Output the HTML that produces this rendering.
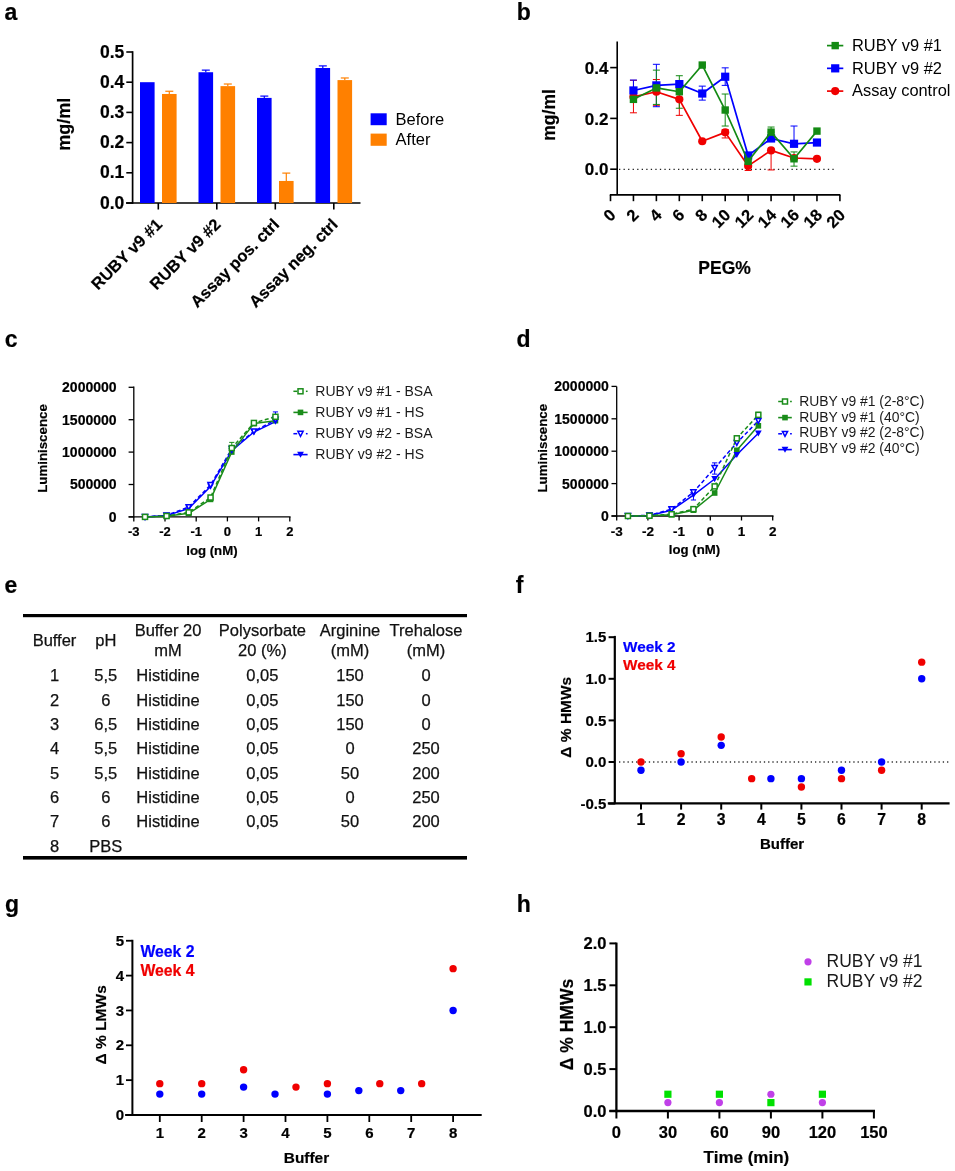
<!DOCTYPE html>
<html><head><meta charset="utf-8"><style>
html,body{margin:0;padding:0;background:#fff;width:955px;height:1171px;overflow:hidden}
svg{display:block;font-family:"Liberation Sans", sans-serif;will-change:transform}
</style></head><body>
<svg width="955" height="1171" viewBox="0 0 955 1171">
<rect width="955" height="1171" fill="#fff"/>
<text x="4.50" y="19.60" font-size="23" font-weight="bold" text-anchor="start" fill="#000" stroke="#000" stroke-width="0.2">a</text>
<text x="516.80" y="19.60" font-size="23" font-weight="bold" text-anchor="start" fill="#000" stroke="#000" stroke-width="0.2">b</text>
<text x="4.80" y="346.60" font-size="23" font-weight="bold" text-anchor="start" fill="#000" stroke="#000" stroke-width="0.2">c</text>
<text x="516.60" y="346.60" font-size="23" font-weight="bold" text-anchor="start" fill="#000" stroke="#000" stroke-width="0.2">d</text>
<text x="4.60" y="593.20" font-size="23" font-weight="bold" text-anchor="start" fill="#000" stroke="#000" stroke-width="0.2">e</text>
<text x="515.80" y="592.80" font-size="23" font-weight="bold" text-anchor="start" fill="#000" stroke="#000" stroke-width="0.2">f</text>
<text x="5.00" y="911.60" font-size="23" font-weight="bold" text-anchor="start" fill="#000" stroke="#000" stroke-width="0.2">g</text>
<text x="516.80" y="911.80" font-size="23" font-weight="bold" text-anchor="start" fill="#000" stroke="#000" stroke-width="0.2">h</text>
<line x1="132.60" y1="51.20" x2="132.60" y2="203.80" stroke="#000" stroke-width="1.7"/>
<line x1="126.30" y1="203.00" x2="132.60" y2="203.00" stroke="#000" stroke-width="1.6"/>
<text x="124.30" y="208.60" font-size="17.5" font-weight="bold" text-anchor="end" fill="#000" stroke="#000" stroke-width="0.2">0.0</text>
<line x1="126.30" y1="172.80" x2="132.60" y2="172.80" stroke="#000" stroke-width="1.6"/>
<text x="124.30" y="178.40" font-size="17.5" font-weight="bold" text-anchor="end" fill="#000" stroke="#000" stroke-width="0.2">0.1</text>
<line x1="126.30" y1="142.60" x2="132.60" y2="142.60" stroke="#000" stroke-width="1.6"/>
<text x="124.30" y="148.20" font-size="17.5" font-weight="bold" text-anchor="end" fill="#000" stroke="#000" stroke-width="0.2">0.2</text>
<line x1="126.30" y1="112.40" x2="132.60" y2="112.40" stroke="#000" stroke-width="1.6"/>
<text x="124.30" y="118.00" font-size="17.5" font-weight="bold" text-anchor="end" fill="#000" stroke="#000" stroke-width="0.2">0.3</text>
<line x1="126.30" y1="82.20" x2="132.60" y2="82.20" stroke="#000" stroke-width="1.6"/>
<text x="124.30" y="87.80" font-size="17.5" font-weight="bold" text-anchor="end" fill="#000" stroke="#000" stroke-width="0.2">0.4</text>
<line x1="126.30" y1="52.00" x2="132.60" y2="52.00" stroke="#000" stroke-width="1.6"/>
<text x="124.30" y="57.60" font-size="17.5" font-weight="bold" text-anchor="end" fill="#000" stroke="#000" stroke-width="0.2">0.5</text>
<line x1="126.00" y1="203.00" x2="360.50" y2="203.00" stroke="#000" stroke-width="1.6"/>
<line x1="158.30" y1="203.00" x2="158.30" y2="209.50" stroke="#000" stroke-width="1.6"/>
<rect x="140.00" y="82.20" width="14.60" height="120.80" fill="#0000ff"/>
<line x1="169.30" y1="91.26" x2="169.30" y2="93.98" stroke="#ff8000" stroke-width="1.2"/>
<line x1="165.30" y1="91.26" x2="173.30" y2="91.26" stroke="#ff8000" stroke-width="1.2"/>
<rect x="162.00" y="93.98" width="14.60" height="109.02" fill="#ff8000"/>
<line x1="216.80" y1="203.00" x2="216.80" y2="209.50" stroke="#000" stroke-width="1.6"/>
<line x1="205.80" y1="70.12" x2="205.80" y2="72.23" stroke="#0000ff" stroke-width="1.2"/>
<line x1="201.80" y1="70.12" x2="209.80" y2="70.12" stroke="#0000ff" stroke-width="1.2"/>
<rect x="198.50" y="72.23" width="14.60" height="130.77" fill="#0000ff"/>
<line x1="227.80" y1="84.01" x2="227.80" y2="86.13" stroke="#ff8000" stroke-width="1.2"/>
<line x1="223.80" y1="84.01" x2="231.80" y2="84.01" stroke="#ff8000" stroke-width="1.2"/>
<rect x="220.50" y="86.13" width="14.60" height="116.87" fill="#ff8000"/>
<line x1="275.30" y1="203.00" x2="275.30" y2="209.50" stroke="#000" stroke-width="1.6"/>
<line x1="264.30" y1="96.09" x2="264.30" y2="97.90" stroke="#0000ff" stroke-width="1.2"/>
<line x1="260.30" y1="96.09" x2="268.30" y2="96.09" stroke="#0000ff" stroke-width="1.2"/>
<rect x="257.00" y="97.90" width="14.60" height="105.10" fill="#0000ff"/>
<line x1="286.30" y1="173.10" x2="286.30" y2="180.95" stroke="#ff8000" stroke-width="1.2"/>
<line x1="282.30" y1="173.10" x2="290.30" y2="173.10" stroke="#ff8000" stroke-width="1.2"/>
<rect x="279.00" y="180.95" width="14.60" height="22.05" fill="#ff8000"/>
<line x1="333.80" y1="203.00" x2="333.80" y2="209.50" stroke="#000" stroke-width="1.6"/>
<line x1="322.80" y1="65.89" x2="322.80" y2="68.01" stroke="#0000ff" stroke-width="1.2"/>
<line x1="318.80" y1="65.89" x2="326.80" y2="65.89" stroke="#0000ff" stroke-width="1.2"/>
<rect x="315.50" y="68.01" width="14.60" height="134.99" fill="#0000ff"/>
<line x1="344.80" y1="77.97" x2="344.80" y2="80.09" stroke="#ff8000" stroke-width="1.2"/>
<line x1="340.80" y1="77.97" x2="348.80" y2="77.97" stroke="#ff8000" stroke-width="1.2"/>
<rect x="337.50" y="80.09" width="14.60" height="122.91" fill="#ff8000"/>
<text x="70.20" y="124.20" font-size="18" font-weight="bold" text-anchor="middle" fill="#000" stroke="#000" stroke-width="0.2" transform="rotate(-90 70.20 124.20)">mg/ml</text>
<rect x="370.60" y="113.30" width="16.10" height="11.90" fill="#0000ff"/>
<rect x="370.60" y="133.60" width="16.10" height="12.20" fill="#ff8000"/>
<text x="395.60" y="124.90" font-size="16.5" font-weight="normal" text-anchor="start" fill="#000">Before</text>
<text x="395.60" y="145.00" font-size="16.5" font-weight="normal" text-anchor="start" fill="#000">After</text>
<text x="163.30" y="225.50" font-size="16.5" font-weight="bold" text-anchor="end" fill="#000" stroke="#000" stroke-width="0.2" transform="rotate(-45 163.30 225.50)">RUBY v9 #1</text>
<text x="221.80" y="225.50" font-size="16.5" font-weight="bold" text-anchor="end" fill="#000" stroke="#000" stroke-width="0.2" transform="rotate(-45 221.80 225.50)">RUBY v9 #2</text>
<text x="280.30" y="225.50" font-size="16.5" font-weight="bold" text-anchor="end" fill="#000" stroke="#000" stroke-width="0.2" transform="rotate(-45 280.30 225.50)">Assay pos. ctrl</text>
<text x="338.80" y="225.50" font-size="16.5" font-weight="bold" text-anchor="end" fill="#000" stroke="#000" stroke-width="0.2" transform="rotate(-45 338.80 225.50)">Assay neg. ctrl</text>
<line x1="617.20" y1="41.60" x2="617.20" y2="194.90" stroke="#000" stroke-width="1.6"/>
<line x1="610.20" y1="169.20" x2="617.20" y2="169.20" stroke="#000" stroke-width="1.6"/>
<text x="608.40" y="175.40" font-size="17" font-weight="bold" text-anchor="end" fill="#000" stroke="#000" stroke-width="0.2">0.0</text>
<line x1="610.20" y1="118.40" x2="617.20" y2="118.40" stroke="#000" stroke-width="1.6"/>
<text x="608.40" y="124.60" font-size="17" font-weight="bold" text-anchor="end" fill="#000" stroke="#000" stroke-width="0.2">0.2</text>
<line x1="610.20" y1="67.60" x2="617.20" y2="67.60" stroke="#000" stroke-width="1.6"/>
<text x="608.40" y="73.80" font-size="17" font-weight="bold" text-anchor="end" fill="#000" stroke="#000" stroke-width="0.2">0.4</text>
<line x1="609.80" y1="194.90" x2="840.40" y2="194.90" stroke="#000" stroke-width="1.6"/>
<line x1="610.50" y1="194.90" x2="610.50" y2="201.20" stroke="#000" stroke-width="1.6"/>
<text x="616.80" y="216.00" font-size="16.5" font-weight="bold" text-anchor="end" fill="#000" stroke="#000" stroke-width="0.2" transform="rotate(-45 616.80 216.00)">0</text>
<line x1="633.44" y1="194.90" x2="633.44" y2="201.20" stroke="#000" stroke-width="1.6"/>
<text x="639.74" y="216.00" font-size="16.5" font-weight="bold" text-anchor="end" fill="#000" stroke="#000" stroke-width="0.2" transform="rotate(-45 639.74 216.00)">2</text>
<line x1="656.38" y1="194.90" x2="656.38" y2="201.20" stroke="#000" stroke-width="1.6"/>
<text x="662.68" y="216.00" font-size="16.5" font-weight="bold" text-anchor="end" fill="#000" stroke="#000" stroke-width="0.2" transform="rotate(-45 662.68 216.00)">4</text>
<line x1="679.32" y1="194.90" x2="679.32" y2="201.20" stroke="#000" stroke-width="1.6"/>
<text x="685.62" y="216.00" font-size="16.5" font-weight="bold" text-anchor="end" fill="#000" stroke="#000" stroke-width="0.2" transform="rotate(-45 685.62 216.00)">6</text>
<line x1="702.26" y1="194.90" x2="702.26" y2="201.20" stroke="#000" stroke-width="1.6"/>
<text x="708.56" y="216.00" font-size="16.5" font-weight="bold" text-anchor="end" fill="#000" stroke="#000" stroke-width="0.2" transform="rotate(-45 708.56 216.00)">8</text>
<line x1="725.20" y1="194.90" x2="725.20" y2="201.20" stroke="#000" stroke-width="1.6"/>
<text x="731.50" y="216.00" font-size="16.5" font-weight="bold" text-anchor="end" fill="#000" stroke="#000" stroke-width="0.2" transform="rotate(-45 731.50 216.00)">10</text>
<line x1="748.14" y1="194.90" x2="748.14" y2="201.20" stroke="#000" stroke-width="1.6"/>
<text x="754.44" y="216.00" font-size="16.5" font-weight="bold" text-anchor="end" fill="#000" stroke="#000" stroke-width="0.2" transform="rotate(-45 754.44 216.00)">12</text>
<line x1="771.08" y1="194.90" x2="771.08" y2="201.20" stroke="#000" stroke-width="1.6"/>
<text x="777.38" y="216.00" font-size="16.5" font-weight="bold" text-anchor="end" fill="#000" stroke="#000" stroke-width="0.2" transform="rotate(-45 777.38 216.00)">14</text>
<line x1="794.02" y1="194.90" x2="794.02" y2="201.20" stroke="#000" stroke-width="1.6"/>
<text x="800.32" y="216.00" font-size="16.5" font-weight="bold" text-anchor="end" fill="#000" stroke="#000" stroke-width="0.2" transform="rotate(-45 800.32 216.00)">16</text>
<line x1="816.96" y1="194.90" x2="816.96" y2="201.20" stroke="#000" stroke-width="1.6"/>
<text x="823.26" y="216.00" font-size="16.5" font-weight="bold" text-anchor="end" fill="#000" stroke="#000" stroke-width="0.2" transform="rotate(-45 823.26 216.00)">18</text>
<line x1="839.90" y1="194.90" x2="839.90" y2="201.20" stroke="#000" stroke-width="1.6"/>
<text x="846.20" y="216.00" font-size="16.5" font-weight="bold" text-anchor="end" fill="#000" stroke="#000" stroke-width="0.2" transform="rotate(-45 846.20 216.00)">20</text>
<line x1="619" y1="169.4" x2="836" y2="169.4" stroke="#222" stroke-width="1.4" stroke-dasharray="1.3 3.24"/>
<line x1="633.44" y1="80.30" x2="633.44" y2="112.81" stroke="#f00000" stroke-width="1.0"/>
<line x1="629.94" y1="80.30" x2="636.94" y2="80.30" stroke="#f00000" stroke-width="1.0"/>
<line x1="629.94" y1="112.81" x2="636.94" y2="112.81" stroke="#f00000" stroke-width="1.0"/>
<line x1="656.38" y1="79.54" x2="656.38" y2="105.70" stroke="#f00000" stroke-width="1.0"/>
<line x1="652.88" y1="79.54" x2="659.88" y2="79.54" stroke="#f00000" stroke-width="1.0"/>
<line x1="652.88" y1="105.70" x2="659.88" y2="105.70" stroke="#f00000" stroke-width="1.0"/>
<line x1="679.32" y1="99.35" x2="679.32" y2="115.35" stroke="#f00000" stroke-width="1.0"/>
<line x1="675.82" y1="99.35" x2="682.82" y2="99.35" stroke="#f00000" stroke-width="1.0"/>
<line x1="675.82" y1="115.35" x2="682.82" y2="115.35" stroke="#f00000" stroke-width="1.0"/>
<line x1="725.20" y1="129.58" x2="725.20" y2="137.96" stroke="#f00000" stroke-width="1.0"/>
<line x1="721.70" y1="129.58" x2="728.70" y2="129.58" stroke="#f00000" stroke-width="1.0"/>
<line x1="721.70" y1="137.96" x2="728.70" y2="137.96" stroke="#f00000" stroke-width="1.0"/>
<line x1="748.14" y1="165.90" x2="748.14" y2="170.47" stroke="#f00000" stroke-width="1.0"/>
<line x1="744.64" y1="165.90" x2="751.64" y2="165.90" stroke="#f00000" stroke-width="1.0"/>
<line x1="744.64" y1="170.47" x2="751.64" y2="170.47" stroke="#f00000" stroke-width="1.0"/>
<line x1="771.08" y1="150.40" x2="771.08" y2="169.96" stroke="#f00000" stroke-width="1.0"/>
<line x1="767.58" y1="150.40" x2="774.58" y2="150.40" stroke="#f00000" stroke-width="1.0"/>
<line x1="767.58" y1="169.96" x2="774.58" y2="169.96" stroke="#f00000" stroke-width="1.0"/>
<line x1="633.44" y1="80.05" x2="633.44" y2="98.08" stroke="#0000ff" stroke-width="1.0"/>
<line x1="629.94" y1="80.05" x2="636.94" y2="80.05" stroke="#0000ff" stroke-width="1.0"/>
<line x1="629.94" y1="98.08" x2="636.94" y2="98.08" stroke="#0000ff" stroke-width="1.0"/>
<line x1="656.38" y1="64.30" x2="656.38" y2="106.72" stroke="#0000ff" stroke-width="1.0"/>
<line x1="652.88" y1="64.30" x2="659.88" y2="64.30" stroke="#0000ff" stroke-width="1.0"/>
<line x1="652.88" y1="106.72" x2="659.88" y2="106.72" stroke="#0000ff" stroke-width="1.0"/>
<line x1="702.26" y1="86.14" x2="702.26" y2="100.11" stroke="#0000ff" stroke-width="1.0"/>
<line x1="698.76" y1="86.14" x2="705.76" y2="86.14" stroke="#0000ff" stroke-width="1.0"/>
<line x1="698.76" y1="100.11" x2="705.76" y2="100.11" stroke="#0000ff" stroke-width="1.0"/>
<line x1="725.20" y1="67.85" x2="725.20" y2="85.38" stroke="#0000ff" stroke-width="1.0"/>
<line x1="721.70" y1="67.85" x2="728.70" y2="67.85" stroke="#0000ff" stroke-width="1.0"/>
<line x1="721.70" y1="85.38" x2="728.70" y2="85.38" stroke="#0000ff" stroke-width="1.0"/>
<line x1="794.02" y1="126.02" x2="794.02" y2="143.80" stroke="#0000ff" stroke-width="1.0"/>
<line x1="790.52" y1="126.02" x2="797.52" y2="126.02" stroke="#0000ff" stroke-width="1.0"/>
<line x1="790.52" y1="143.80" x2="797.52" y2="143.80" stroke="#0000ff" stroke-width="1.0"/>
<line x1="656.38" y1="70.14" x2="656.38" y2="104.43" stroke="#138a13" stroke-width="1.0"/>
<line x1="652.88" y1="70.14" x2="659.88" y2="70.14" stroke="#138a13" stroke-width="1.0"/>
<line x1="652.88" y1="104.43" x2="659.88" y2="104.43" stroke="#138a13" stroke-width="1.0"/>
<line x1="679.32" y1="75.73" x2="679.32" y2="108.24" stroke="#138a13" stroke-width="1.0"/>
<line x1="675.82" y1="75.73" x2="682.82" y2="75.73" stroke="#138a13" stroke-width="1.0"/>
<line x1="675.82" y1="108.24" x2="682.82" y2="108.24" stroke="#138a13" stroke-width="1.0"/>
<line x1="725.20" y1="94.02" x2="725.20" y2="126.02" stroke="#138a13" stroke-width="1.0"/>
<line x1="721.70" y1="94.02" x2="728.70" y2="94.02" stroke="#138a13" stroke-width="1.0"/>
<line x1="721.70" y1="126.02" x2="728.70" y2="126.02" stroke="#138a13" stroke-width="1.0"/>
<line x1="771.08" y1="127.04" x2="771.08" y2="132.12" stroke="#138a13" stroke-width="1.0"/>
<line x1="767.58" y1="127.04" x2="774.58" y2="127.04" stroke="#138a13" stroke-width="1.0"/>
<line x1="767.58" y1="132.12" x2="774.58" y2="132.12" stroke="#138a13" stroke-width="1.0"/>
<line x1="794.02" y1="151.93" x2="794.02" y2="166.15" stroke="#138a13" stroke-width="1.0"/>
<line x1="790.52" y1="151.93" x2="797.52" y2="151.93" stroke="#138a13" stroke-width="1.0"/>
<line x1="790.52" y1="166.15" x2="797.52" y2="166.15" stroke="#138a13" stroke-width="1.0"/>
<polyline points="633.44,96.81 656.38,91.73 679.32,99.35 702.26,141.26 725.20,132.37 748.14,165.90 771.08,150.40 794.02,158.02 816.96,158.79" fill="none" stroke="#f00000" stroke-width="1.7" stroke-linejoin="round"/>
<circle cx="633.44" cy="96.81" r="4.10" fill="#f00000"/>
<circle cx="656.38" cy="91.73" r="4.10" fill="#f00000"/>
<circle cx="679.32" cy="99.35" r="4.10" fill="#f00000"/>
<circle cx="702.26" cy="141.26" r="4.10" fill="#f00000"/>
<circle cx="725.20" cy="132.37" r="4.10" fill="#f00000"/>
<circle cx="748.14" cy="165.90" r="4.10" fill="#f00000"/>
<circle cx="771.08" cy="150.40" r="4.10" fill="#f00000"/>
<circle cx="794.02" cy="158.02" r="4.10" fill="#f00000"/>
<circle cx="816.96" cy="158.79" r="4.10" fill="#f00000"/>
<polyline points="633.44,90.46 656.38,85.38 679.32,84.11 702.26,93.51 725.20,76.74 748.14,155.48 771.08,138.47 794.02,143.80 816.96,142.53" fill="none" stroke="#0000ff" stroke-width="1.7" stroke-linejoin="round"/>
<rect x="629.34" y="86.36" width="8.20" height="8.20" fill="#0000ff"/>
<rect x="652.28" y="81.28" width="8.20" height="8.20" fill="#0000ff"/>
<rect x="675.22" y="80.01" width="8.20" height="8.20" fill="#0000ff"/>
<rect x="698.16" y="89.41" width="8.20" height="8.20" fill="#0000ff"/>
<rect x="721.10" y="72.64" width="8.20" height="8.20" fill="#0000ff"/>
<rect x="744.04" y="151.38" width="8.20" height="8.20" fill="#0000ff"/>
<rect x="766.98" y="134.37" width="8.20" height="8.20" fill="#0000ff"/>
<rect x="789.92" y="139.70" width="8.20" height="8.20" fill="#0000ff"/>
<rect x="812.86" y="138.43" width="8.20" height="8.20" fill="#0000ff"/>
<polyline points="633.44,99.35 656.38,87.92 679.32,91.73 702.26,65.06 725.20,110.02 748.14,161.33 771.08,132.12 794.02,158.79 816.96,131.10" fill="none" stroke="#138a13" stroke-width="1.7" stroke-linejoin="round"/>
<rect x="629.74" y="95.65" width="7.40" height="7.40" fill="#138a13"/>
<rect x="652.68" y="84.22" width="7.40" height="7.40" fill="#138a13"/>
<rect x="675.62" y="88.03" width="7.40" height="7.40" fill="#138a13"/>
<rect x="698.56" y="61.36" width="7.40" height="7.40" fill="#138a13"/>
<rect x="721.50" y="106.32" width="7.40" height="7.40" fill="#138a13"/>
<rect x="744.44" y="157.63" width="7.40" height="7.40" fill="#138a13"/>
<rect x="767.38" y="128.42" width="7.40" height="7.40" fill="#138a13"/>
<rect x="790.32" y="155.09" width="7.40" height="7.40" fill="#138a13"/>
<rect x="813.26" y="127.40" width="7.40" height="7.40" fill="#138a13"/>
<line x1="827.00" y1="45.60" x2="843.30" y2="45.60" stroke="#138a13" stroke-width="1.7"/>
<rect x="831.50" y="41.90" width="7.40" height="7.40" fill="#138a13"/>
<text x="852.00" y="51.30" font-size="16.4" font-weight="normal" text-anchor="start" fill="#000">RUBY v9 #1</text>
<line x1="827.00" y1="68.35" x2="843.30" y2="68.35" stroke="#0000ff" stroke-width="1.7"/>
<rect x="831.10" y="64.25" width="8.20" height="8.20" fill="#0000ff"/>
<text x="852.00" y="73.70" font-size="16.4" font-weight="normal" text-anchor="start" fill="#000">RUBY v9 #2</text>
<line x1="827.00" y1="91.10" x2="843.30" y2="91.10" stroke="#f00000" stroke-width="1.7"/>
<circle cx="835.20" cy="91.10" r="4.10" fill="#f00000"/>
<text x="852.00" y="96.10" font-size="16.4" font-weight="normal" text-anchor="start" fill="#000">Assay control</text>
<text x="724.60" y="274.00" font-size="17.5" font-weight="bold" text-anchor="middle" fill="#000" stroke="#000" stroke-width="0.2">PEG%</text>
<text x="554.60" y="114.90" font-size="17.5" font-weight="bold" text-anchor="middle" fill="#000" stroke="#000" stroke-width="0.2" transform="rotate(-90 554.60 114.90)">mg/ml</text>
<line x1="133.80" y1="386.60" x2="133.80" y2="517.40" stroke="#000" stroke-width="1.3"/>
<line x1="128.60" y1="516.90" x2="133.80" y2="516.90" stroke="#000" stroke-width="1.3"/>
<text x="116.60" y="521.80" font-size="14" font-weight="bold" text-anchor="end" fill="#000" stroke="#000" stroke-width="0.2">0</text>
<line x1="128.60" y1="484.50" x2="133.80" y2="484.50" stroke="#000" stroke-width="1.3"/>
<text x="116.60" y="489.40" font-size="14" font-weight="bold" text-anchor="end" fill="#000" stroke="#000" stroke-width="0.2">500000</text>
<line x1="128.60" y1="452.10" x2="133.80" y2="452.10" stroke="#000" stroke-width="1.3"/>
<text x="116.60" y="457.00" font-size="14" font-weight="bold" text-anchor="end" fill="#000" stroke="#000" stroke-width="0.2">1000000</text>
<line x1="128.60" y1="419.70" x2="133.80" y2="419.70" stroke="#000" stroke-width="1.3"/>
<text x="116.60" y="424.60" font-size="14" font-weight="bold" text-anchor="end" fill="#000" stroke="#000" stroke-width="0.2">1500000</text>
<line x1="128.60" y1="387.30" x2="133.80" y2="387.30" stroke="#000" stroke-width="1.3"/>
<text x="116.60" y="392.20" font-size="14" font-weight="bold" text-anchor="end" fill="#000" stroke="#000" stroke-width="0.2">2000000</text>
<line x1="128.60" y1="516.90" x2="290.60" y2="516.90" stroke="#000" stroke-width="1.3"/>
<line x1="133.80" y1="516.90" x2="133.80" y2="521.40" stroke="#000" stroke-width="1.3"/>
<text x="133.80" y="536.20" font-size="13" font-weight="bold" text-anchor="middle" fill="#000" stroke="#000" stroke-width="0.2">-3</text>
<line x1="165.00" y1="516.90" x2="165.00" y2="521.40" stroke="#000" stroke-width="1.3"/>
<text x="165.00" y="536.20" font-size="13" font-weight="bold" text-anchor="middle" fill="#000" stroke="#000" stroke-width="0.2">-2</text>
<line x1="196.20" y1="516.90" x2="196.20" y2="521.40" stroke="#000" stroke-width="1.3"/>
<text x="196.20" y="536.20" font-size="13" font-weight="bold" text-anchor="middle" fill="#000" stroke="#000" stroke-width="0.2">-1</text>
<line x1="227.40" y1="516.90" x2="227.40" y2="521.40" stroke="#000" stroke-width="1.3"/>
<text x="227.40" y="536.20" font-size="13" font-weight="bold" text-anchor="middle" fill="#000" stroke="#000" stroke-width="0.2">0</text>
<line x1="258.60" y1="516.90" x2="258.60" y2="521.40" stroke="#000" stroke-width="1.3"/>
<text x="258.60" y="536.20" font-size="13" font-weight="bold" text-anchor="middle" fill="#000" stroke="#000" stroke-width="0.2">1</text>
<line x1="289.80" y1="516.90" x2="289.80" y2="521.40" stroke="#000" stroke-width="1.3"/>
<text x="289.80" y="536.20" font-size="13" font-weight="bold" text-anchor="middle" fill="#000" stroke="#000" stroke-width="0.2">2</text>
<text x="211.90" y="555.20" font-size="13.2" font-weight="bold" text-anchor="middle" fill="#000" stroke="#000" stroke-width="0.2">log (nM)</text>
<text x="47.20" y="448.50" font-size="13.3" font-weight="bold" text-anchor="middle" fill="#000" stroke="#000" stroke-width="0.2" transform="rotate(-90 47.20 448.50)">Luminiscence</text>
<polyline points="145.03,516.90 166.56,515.28 188.71,507.05 210.55,485.02 231.77,448.86 253.92,431.36 275.45,419.70" fill="none" stroke="#0000ff" stroke-width="1.5" stroke-linejoin="round" stroke-dasharray="4 2.5"/>
<polyline points="145.03,516.90 166.56,515.60 188.71,508.48 210.55,486.44 231.77,450.80 253.92,432.01 275.45,421.64" fill="none" stroke="#0000ff" stroke-width="1.5" stroke-linejoin="round"/>
<polyline points="145.03,516.90 166.56,515.99 188.71,512.36 210.55,497.52 231.77,448.02 253.92,422.94 275.45,416.78" fill="none" stroke="#1a8c1a" stroke-width="1.5" stroke-linejoin="round" stroke-dasharray="4 2.5"/>
<polyline points="145.03,516.90 166.56,516.25 188.71,513.34 210.55,499.40 231.77,452.04 253.92,423.59 275.45,420.67" fill="none" stroke="#1a8c1a" stroke-width="1.5" stroke-linejoin="round"/>
<line x1="231.77" y1="442.38" x2="231.77" y2="448.02" stroke="#1a8c1a" stroke-width="1.0"/>
<line x1="229.17" y1="442.38" x2="234.37" y2="442.38" stroke="#1a8c1a" stroke-width="1.0"/>
<line x1="229.17" y1="448.02" x2="234.37" y2="448.02" stroke="#1a8c1a" stroke-width="1.0"/>
<line x1="275.45" y1="411.92" x2="275.45" y2="419.70" stroke="#0000ff" stroke-width="1.0"/>
<line x1="272.85" y1="411.92" x2="278.05" y2="411.92" stroke="#0000ff" stroke-width="1.0"/>
<line x1="272.85" y1="419.70" x2="278.05" y2="419.70" stroke="#0000ff" stroke-width="1.0"/>
<rect x="142.23" y="514.10" width="5.60" height="5.60" fill="#1a8c1a"/>
<rect x="163.76" y="513.45" width="5.60" height="5.60" fill="#1a8c1a"/>
<rect x="185.91" y="510.54" width="5.60" height="5.60" fill="#1a8c1a"/>
<rect x="207.75" y="496.60" width="5.60" height="5.60" fill="#1a8c1a"/>
<rect x="228.97" y="449.24" width="5.60" height="5.60" fill="#1a8c1a"/>
<rect x="251.12" y="420.79" width="5.60" height="5.60" fill="#1a8c1a"/>
<rect x="272.65" y="417.87" width="5.60" height="5.60" fill="#1a8c1a"/>
<polygon points="141.63,514.00 148.43,514.00 145.03,520.10" fill="#0000ff"/>
<polygon points="163.16,512.70 169.96,512.70 166.56,518.80" fill="#0000ff"/>
<polygon points="185.31,505.58 192.11,505.58 188.71,511.68" fill="#0000ff"/>
<polygon points="207.15,483.54 213.95,483.54 210.55,489.64" fill="#0000ff"/>
<polygon points="228.37,447.90 235.17,447.90 231.77,454.00" fill="#0000ff"/>
<polygon points="250.52,429.11 257.32,429.11 253.92,435.21" fill="#0000ff"/>
<polygon points="272.05,418.74 278.85,418.74 275.45,424.84" fill="#0000ff"/>
<polygon points="142.43,514.50 147.63,514.50 145.03,519.50" fill="#fff" stroke="#0000ff" stroke-width="1.5" stroke-linejoin="miter"/>
<polygon points="163.96,512.88 169.16,512.88 166.56,517.88" fill="#fff" stroke="#0000ff" stroke-width="1.5" stroke-linejoin="miter"/>
<polygon points="186.11,504.65 191.31,504.65 188.71,509.65" fill="#fff" stroke="#0000ff" stroke-width="1.5" stroke-linejoin="miter"/>
<polygon points="207.95,482.62 213.15,482.62 210.55,487.62" fill="#fff" stroke="#0000ff" stroke-width="1.5" stroke-linejoin="miter"/>
<polygon points="229.17,446.46 234.37,446.46 231.77,451.46" fill="#fff" stroke="#0000ff" stroke-width="1.5" stroke-linejoin="miter"/>
<polygon points="251.32,428.96 256.52,428.96 253.92,433.96" fill="#fff" stroke="#0000ff" stroke-width="1.5" stroke-linejoin="miter"/>
<polygon points="272.85,417.30 278.05,417.30 275.45,422.30" fill="#fff" stroke="#0000ff" stroke-width="1.5" stroke-linejoin="miter"/>
<rect x="142.53" y="514.40" width="5" height="5" fill="#fff" stroke="#1a8c1a" stroke-width="1.5"/>
<rect x="164.06" y="513.49" width="5" height="5" fill="#fff" stroke="#1a8c1a" stroke-width="1.5"/>
<rect x="186.21" y="509.86" width="5" height="5" fill="#fff" stroke="#1a8c1a" stroke-width="1.5"/>
<rect x="208.05" y="495.02" width="5" height="5" fill="#fff" stroke="#1a8c1a" stroke-width="1.5"/>
<rect x="229.27" y="445.52" width="5" height="5" fill="#fff" stroke="#1a8c1a" stroke-width="1.5"/>
<rect x="251.42" y="420.44" width="5" height="5" fill="#fff" stroke="#1a8c1a" stroke-width="1.5"/>
<rect x="272.95" y="414.28" width="5" height="5" fill="#fff" stroke="#1a8c1a" stroke-width="1.5"/>
<line x1="293.40" y1="391.30" x2="297.20" y2="391.30" stroke="#1a8c1a" stroke-width="1.5"/>
<line x1="305.90" y1="391.30" x2="307.60" y2="391.30" stroke="#1a8c1a" stroke-width="1.5"/>
<rect x="298.00" y="388.80" width="5" height="5" fill="#fff" stroke="#1a8c1a" stroke-width="1.5"/>
<text x="315.30" y="396.10" font-size="14" font-weight="normal" text-anchor="start" fill="#1a1a1a">RUBY v9 #1 - BSA</text>
<line x1="293.40" y1="412.40" x2="307.60" y2="412.40" stroke="#1a8c1a" stroke-width="1.6"/>
<rect x="297.70" y="409.60" width="5.60" height="5.60" fill="#1a8c1a"/>
<text x="315.30" y="417.20" font-size="14" font-weight="normal" text-anchor="start" fill="#1a1a1a">RUBY v9 #1 - HS</text>
<line x1="293.40" y1="433.70" x2="297.20" y2="433.70" stroke="#0000ff" stroke-width="1.5"/>
<line x1="305.90" y1="433.70" x2="307.60" y2="433.70" stroke="#0000ff" stroke-width="1.5"/>
<polygon points="297.90,431.30 303.10,431.30 300.50,436.30" fill="#fff" stroke="#0000ff" stroke-width="1.5" stroke-linejoin="miter"/>
<text x="315.30" y="438.40" font-size="14" font-weight="normal" text-anchor="start" fill="#1a1a1a">RUBY v9 #2 - BSA</text>
<line x1="293.40" y1="454.60" x2="307.60" y2="454.60" stroke="#0000ff" stroke-width="1.6"/>
<polygon points="297.10,451.70 303.90,451.70 300.50,457.80" fill="#0000ff"/>
<text x="315.30" y="459.40" font-size="14" font-weight="normal" text-anchor="start" fill="#1a1a1a">RUBY v9 #2 - HS</text>
<line x1="616.70" y1="386.60" x2="616.70" y2="516.50" stroke="#000" stroke-width="1.3"/>
<line x1="611.50" y1="516.00" x2="616.70" y2="516.00" stroke="#000" stroke-width="1.3"/>
<text x="608.80" y="520.90" font-size="14" font-weight="bold" text-anchor="end" fill="#000" stroke="#000" stroke-width="0.2">0</text>
<line x1="611.50" y1="483.60" x2="616.70" y2="483.60" stroke="#000" stroke-width="1.3"/>
<text x="608.80" y="488.50" font-size="14" font-weight="bold" text-anchor="end" fill="#000" stroke="#000" stroke-width="0.2">500000</text>
<line x1="611.50" y1="451.20" x2="616.70" y2="451.20" stroke="#000" stroke-width="1.3"/>
<text x="608.80" y="456.10" font-size="14" font-weight="bold" text-anchor="end" fill="#000" stroke="#000" stroke-width="0.2">1000000</text>
<line x1="611.50" y1="418.80" x2="616.70" y2="418.80" stroke="#000" stroke-width="1.3"/>
<text x="608.80" y="423.70" font-size="14" font-weight="bold" text-anchor="end" fill="#000" stroke="#000" stroke-width="0.2">1500000</text>
<line x1="611.50" y1="386.40" x2="616.70" y2="386.40" stroke="#000" stroke-width="1.3"/>
<text x="608.80" y="391.30" font-size="14" font-weight="bold" text-anchor="end" fill="#000" stroke="#000" stroke-width="0.2">2000000</text>
<line x1="611.50" y1="516.00" x2="773.50" y2="516.00" stroke="#000" stroke-width="1.3"/>
<line x1="616.70" y1="516.00" x2="616.70" y2="520.50" stroke="#000" stroke-width="1.3"/>
<text x="616.70" y="535.60" font-size="13.5" font-weight="bold" text-anchor="middle" fill="#000" stroke="#000" stroke-width="0.2">-3</text>
<line x1="647.90" y1="516.00" x2="647.90" y2="520.50" stroke="#000" stroke-width="1.3"/>
<text x="647.90" y="535.60" font-size="13.5" font-weight="bold" text-anchor="middle" fill="#000" stroke="#000" stroke-width="0.2">-2</text>
<line x1="679.10" y1="516.00" x2="679.10" y2="520.50" stroke="#000" stroke-width="1.3"/>
<text x="679.10" y="535.60" font-size="13.5" font-weight="bold" text-anchor="middle" fill="#000" stroke="#000" stroke-width="0.2">-1</text>
<line x1="710.30" y1="516.00" x2="710.30" y2="520.50" stroke="#000" stroke-width="1.3"/>
<text x="710.30" y="535.60" font-size="13.5" font-weight="bold" text-anchor="middle" fill="#000" stroke="#000" stroke-width="0.2">0</text>
<line x1="741.50" y1="516.00" x2="741.50" y2="520.50" stroke="#000" stroke-width="1.3"/>
<text x="741.50" y="535.60" font-size="13.5" font-weight="bold" text-anchor="middle" fill="#000" stroke="#000" stroke-width="0.2">1</text>
<line x1="772.70" y1="516.00" x2="772.70" y2="520.50" stroke="#000" stroke-width="1.3"/>
<text x="772.70" y="535.60" font-size="13.5" font-weight="bold" text-anchor="middle" fill="#000" stroke="#000" stroke-width="0.2">2</text>
<text x="694.50" y="553.80" font-size="13.2" font-weight="bold" text-anchor="middle" fill="#000" stroke="#000" stroke-width="0.2">log (nM)</text>
<text x="546.90" y="448.20" font-size="13.3" font-weight="bold" text-anchor="middle" fill="#000" stroke="#000" stroke-width="0.2" transform="rotate(-90 546.90 448.20)">Luminiscence</text>
<polyline points="627.93,516.00 649.46,515.35 671.61,509.13 693.45,492.22 714.67,467.98 736.82,442.78 758.35,420.81" fill="none" stroke="#0000ff" stroke-width="1.5" stroke-linejoin="round" stroke-dasharray="4 2.5"/>
<polyline points="627.93,516.00 649.46,515.48 671.61,510.17 693.45,495.13 714.67,479.00 736.82,454.83 758.35,433.32" fill="none" stroke="#0000ff" stroke-width="1.5" stroke-linejoin="round"/>
<polyline points="627.93,516.00 649.46,515.68 671.61,514.19 693.45,509.13 714.67,486.39 736.82,438.30 758.35,414.85" fill="none" stroke="#1a8c1a" stroke-width="1.5" stroke-linejoin="round" stroke-dasharray="4 2.5"/>
<polyline points="627.93,516.00 649.46,515.68 671.61,514.70 693.45,510.17 714.67,493.00 736.82,450.29 758.35,425.80" fill="none" stroke="#1a8c1a" stroke-width="1.5" stroke-linejoin="round"/>
<line x1="693.45" y1="490.27" x2="693.45" y2="499.99" stroke="#0000ff" stroke-width="1.0"/>
<line x1="690.85" y1="490.27" x2="696.05" y2="490.27" stroke="#0000ff" stroke-width="1.0"/>
<line x1="690.85" y1="499.99" x2="696.05" y2="499.99" stroke="#0000ff" stroke-width="1.0"/>
<line x1="714.67" y1="462.86" x2="714.67" y2="474.14" stroke="#0000ff" stroke-width="1.0"/>
<line x1="712.07" y1="462.86" x2="717.27" y2="462.86" stroke="#0000ff" stroke-width="1.0"/>
<line x1="712.07" y1="474.14" x2="717.27" y2="474.14" stroke="#0000ff" stroke-width="1.0"/>
<line x1="758.35" y1="412.32" x2="758.35" y2="414.85" stroke="#1a8c1a" stroke-width="1.0"/>
<line x1="755.75" y1="412.32" x2="760.95" y2="412.32" stroke="#1a8c1a" stroke-width="1.0"/>
<line x1="755.75" y1="414.85" x2="760.95" y2="414.85" stroke="#1a8c1a" stroke-width="1.0"/>
<rect x="625.13" y="513.20" width="5.60" height="5.60" fill="#1a8c1a"/>
<rect x="646.66" y="512.88" width="5.60" height="5.60" fill="#1a8c1a"/>
<rect x="668.81" y="511.90" width="5.60" height="5.60" fill="#1a8c1a"/>
<rect x="690.65" y="507.37" width="5.60" height="5.60" fill="#1a8c1a"/>
<rect x="711.87" y="490.20" width="5.60" height="5.60" fill="#1a8c1a"/>
<rect x="734.02" y="447.49" width="5.60" height="5.60" fill="#1a8c1a"/>
<rect x="755.55" y="423.00" width="5.60" height="5.60" fill="#1a8c1a"/>
<polygon points="624.53,513.10 631.33,513.10 627.93,519.20" fill="#0000ff"/>
<polygon points="646.06,512.58 652.86,512.58 649.46,518.68" fill="#0000ff"/>
<polygon points="668.21,507.27 675.01,507.27 671.61,513.37" fill="#0000ff"/>
<polygon points="690.05,492.23 696.85,492.23 693.45,498.33" fill="#0000ff"/>
<polygon points="711.27,476.10 718.07,476.10 714.67,482.20" fill="#0000ff"/>
<polygon points="733.42,451.93 740.22,451.93 736.82,458.03" fill="#0000ff"/>
<polygon points="754.95,430.42 761.75,430.42 758.35,436.52" fill="#0000ff"/>
<polygon points="625.33,513.60 630.53,513.60 627.93,518.60" fill="#fff" stroke="#0000ff" stroke-width="1.5" stroke-linejoin="miter"/>
<polygon points="646.86,512.95 652.06,512.95 649.46,517.95" fill="#fff" stroke="#0000ff" stroke-width="1.5" stroke-linejoin="miter"/>
<polygon points="669.01,506.73 674.21,506.73 671.61,511.73" fill="#fff" stroke="#0000ff" stroke-width="1.5" stroke-linejoin="miter"/>
<polygon points="690.85,489.82 696.05,489.82 693.45,494.82" fill="#fff" stroke="#0000ff" stroke-width="1.5" stroke-linejoin="miter"/>
<polygon points="712.07,465.58 717.27,465.58 714.67,470.58" fill="#fff" stroke="#0000ff" stroke-width="1.5" stroke-linejoin="miter"/>
<polygon points="734.22,440.38 739.42,440.38 736.82,445.38" fill="#fff" stroke="#0000ff" stroke-width="1.5" stroke-linejoin="miter"/>
<polygon points="755.75,418.41 760.95,418.41 758.35,423.41" fill="#fff" stroke="#0000ff" stroke-width="1.5" stroke-linejoin="miter"/>
<rect x="625.43" y="513.50" width="5" height="5" fill="#fff" stroke="#1a8c1a" stroke-width="1.5"/>
<rect x="646.96" y="513.18" width="5" height="5" fill="#fff" stroke="#1a8c1a" stroke-width="1.5"/>
<rect x="669.11" y="511.69" width="5" height="5" fill="#fff" stroke="#1a8c1a" stroke-width="1.5"/>
<rect x="690.95" y="506.63" width="5" height="5" fill="#fff" stroke="#1a8c1a" stroke-width="1.5"/>
<rect x="712.17" y="483.89" width="5" height="5" fill="#fff" stroke="#1a8c1a" stroke-width="1.5"/>
<rect x="734.32" y="435.80" width="5" height="5" fill="#fff" stroke="#1a8c1a" stroke-width="1.5"/>
<rect x="755.85" y="412.35" width="5" height="5" fill="#fff" stroke="#1a8c1a" stroke-width="1.5"/>
<line x1="778.20" y1="401.50" x2="782.00" y2="401.50" stroke="#1a8c1a" stroke-width="1.5"/>
<line x1="790.10" y1="401.50" x2="791.80" y2="401.50" stroke="#1a8c1a" stroke-width="1.5"/>
<rect x="782.50" y="399.00" width="5" height="5" fill="#fff" stroke="#1a8c1a" stroke-width="1.5"/>
<text x="799.30" y="406.10" font-size="13.9" font-weight="normal" text-anchor="start" fill="#1a1a1a">RUBY v9 #1 (2-8°C)</text>
<line x1="778.20" y1="417.60" x2="791.80" y2="417.60" stroke="#1a8c1a" stroke-width="1.6"/>
<rect x="782.20" y="414.80" width="5.60" height="5.60" fill="#1a8c1a"/>
<text x="799.30" y="421.80" font-size="13.9" font-weight="normal" text-anchor="start" fill="#1a1a1a">RUBY v9 #1 (40°C)</text>
<line x1="778.20" y1="433.80" x2="782.00" y2="433.80" stroke="#0000ff" stroke-width="1.5"/>
<line x1="790.10" y1="433.80" x2="791.80" y2="433.80" stroke="#0000ff" stroke-width="1.5"/>
<polygon points="782.40,431.40 787.60,431.40 785.00,436.40" fill="#fff" stroke="#0000ff" stroke-width="1.5" stroke-linejoin="miter"/>
<text x="799.30" y="437.40" font-size="13.9" font-weight="normal" text-anchor="start" fill="#1a1a1a">RUBY v9 #2 (2-8°C)</text>
<line x1="778.20" y1="449.60" x2="791.80" y2="449.60" stroke="#0000ff" stroke-width="1.6"/>
<polygon points="781.60,446.70 788.40,446.70 785.00,452.80" fill="#0000ff"/>
<text x="799.30" y="453.00" font-size="13.9" font-weight="normal" text-anchor="start" fill="#1a1a1a">RUBY v9 #2 (40°C)</text>
<rect x="23.00" y="614.00" width="444.00" height="3.20" fill="#000"/>
<rect x="23.00" y="856.00" width="444.00" height="3.60" fill="#000"/>
<text x="54.50" y="646.20" font-size="16.5" font-weight="normal" text-anchor="middle" fill="#111" stroke="#111" stroke-width="0.25">Buffer</text>
<text x="105.80" y="646.20" font-size="16.5" font-weight="normal" text-anchor="middle" fill="#111" stroke="#111" stroke-width="0.25">pH</text>
<text x="168.00" y="636.10" font-size="16.5" font-weight="normal" text-anchor="middle" fill="#111" stroke="#111" stroke-width="0.25">Buffer 20</text>
<text x="168.00" y="656.00" font-size="16.5" font-weight="normal" text-anchor="middle" fill="#111" stroke="#111" stroke-width="0.25">mM</text>
<text x="262.40" y="636.10" font-size="16.5" font-weight="normal" text-anchor="middle" fill="#111" stroke="#111" stroke-width="0.25">Polysorbate</text>
<text x="262.40" y="656.00" font-size="16.5" font-weight="normal" text-anchor="middle" fill="#111" stroke="#111" stroke-width="0.25">20 (%)</text>
<text x="350.00" y="636.10" font-size="16.5" font-weight="normal" text-anchor="middle" fill="#111" stroke="#111" stroke-width="0.25">Arginine</text>
<text x="350.00" y="656.00" font-size="16.5" font-weight="normal" text-anchor="middle" fill="#111" stroke="#111" stroke-width="0.25">(mM)</text>
<text x="426.00" y="636.10" font-size="16.5" font-weight="normal" text-anchor="middle" fill="#111" stroke="#111" stroke-width="0.25">Trehalose</text>
<text x="426.00" y="656.00" font-size="16.5" font-weight="normal" text-anchor="middle" fill="#111" stroke="#111" stroke-width="0.25">(mM)</text>
<text x="54.50" y="681.20" font-size="16.5" font-weight="normal" text-anchor="middle" fill="#111" stroke="#111" stroke-width="0.25">1</text>
<text x="105.80" y="681.20" font-size="16.5" font-weight="normal" text-anchor="middle" fill="#111" stroke="#111" stroke-width="0.25">5,5</text>
<text x="168.00" y="681.20" font-size="16.5" font-weight="normal" text-anchor="middle" fill="#111" stroke="#111" stroke-width="0.25">Histidine</text>
<text x="262.40" y="681.20" font-size="16.5" font-weight="normal" text-anchor="middle" fill="#111" stroke="#111" stroke-width="0.25">0,05</text>
<text x="350.00" y="681.20" font-size="16.5" font-weight="normal" text-anchor="middle" fill="#111" stroke="#111" stroke-width="0.25">150</text>
<text x="426.00" y="681.20" font-size="16.5" font-weight="normal" text-anchor="middle" fill="#111" stroke="#111" stroke-width="0.25">0</text>
<text x="54.50" y="705.57" font-size="16.5" font-weight="normal" text-anchor="middle" fill="#111" stroke="#111" stroke-width="0.25">2</text>
<text x="105.80" y="705.57" font-size="16.5" font-weight="normal" text-anchor="middle" fill="#111" stroke="#111" stroke-width="0.25">6</text>
<text x="168.00" y="705.57" font-size="16.5" font-weight="normal" text-anchor="middle" fill="#111" stroke="#111" stroke-width="0.25">Histidine</text>
<text x="262.40" y="705.57" font-size="16.5" font-weight="normal" text-anchor="middle" fill="#111" stroke="#111" stroke-width="0.25">0,05</text>
<text x="350.00" y="705.57" font-size="16.5" font-weight="normal" text-anchor="middle" fill="#111" stroke="#111" stroke-width="0.25">150</text>
<text x="426.00" y="705.57" font-size="16.5" font-weight="normal" text-anchor="middle" fill="#111" stroke="#111" stroke-width="0.25">0</text>
<text x="54.50" y="729.94" font-size="16.5" font-weight="normal" text-anchor="middle" fill="#111" stroke="#111" stroke-width="0.25">3</text>
<text x="105.80" y="729.94" font-size="16.5" font-weight="normal" text-anchor="middle" fill="#111" stroke="#111" stroke-width="0.25">6,5</text>
<text x="168.00" y="729.94" font-size="16.5" font-weight="normal" text-anchor="middle" fill="#111" stroke="#111" stroke-width="0.25">Histidine</text>
<text x="262.40" y="729.94" font-size="16.5" font-weight="normal" text-anchor="middle" fill="#111" stroke="#111" stroke-width="0.25">0,05</text>
<text x="350.00" y="729.94" font-size="16.5" font-weight="normal" text-anchor="middle" fill="#111" stroke="#111" stroke-width="0.25">150</text>
<text x="426.00" y="729.94" font-size="16.5" font-weight="normal" text-anchor="middle" fill="#111" stroke="#111" stroke-width="0.25">0</text>
<text x="54.50" y="754.31" font-size="16.5" font-weight="normal" text-anchor="middle" fill="#111" stroke="#111" stroke-width="0.25">4</text>
<text x="105.80" y="754.31" font-size="16.5" font-weight="normal" text-anchor="middle" fill="#111" stroke="#111" stroke-width="0.25">5,5</text>
<text x="168.00" y="754.31" font-size="16.5" font-weight="normal" text-anchor="middle" fill="#111" stroke="#111" stroke-width="0.25">Histidine</text>
<text x="262.40" y="754.31" font-size="16.5" font-weight="normal" text-anchor="middle" fill="#111" stroke="#111" stroke-width="0.25">0,05</text>
<text x="350.00" y="754.31" font-size="16.5" font-weight="normal" text-anchor="middle" fill="#111" stroke="#111" stroke-width="0.25">0</text>
<text x="426.00" y="754.31" font-size="16.5" font-weight="normal" text-anchor="middle" fill="#111" stroke="#111" stroke-width="0.25">250</text>
<text x="54.50" y="778.68" font-size="16.5" font-weight="normal" text-anchor="middle" fill="#111" stroke="#111" stroke-width="0.25">5</text>
<text x="105.80" y="778.68" font-size="16.5" font-weight="normal" text-anchor="middle" fill="#111" stroke="#111" stroke-width="0.25">5,5</text>
<text x="168.00" y="778.68" font-size="16.5" font-weight="normal" text-anchor="middle" fill="#111" stroke="#111" stroke-width="0.25">Histidine</text>
<text x="262.40" y="778.68" font-size="16.5" font-weight="normal" text-anchor="middle" fill="#111" stroke="#111" stroke-width="0.25">0,05</text>
<text x="350.00" y="778.68" font-size="16.5" font-weight="normal" text-anchor="middle" fill="#111" stroke="#111" stroke-width="0.25">50</text>
<text x="426.00" y="778.68" font-size="16.5" font-weight="normal" text-anchor="middle" fill="#111" stroke="#111" stroke-width="0.25">200</text>
<text x="54.50" y="803.05" font-size="16.5" font-weight="normal" text-anchor="middle" fill="#111" stroke="#111" stroke-width="0.25">6</text>
<text x="105.80" y="803.05" font-size="16.5" font-weight="normal" text-anchor="middle" fill="#111" stroke="#111" stroke-width="0.25">6</text>
<text x="168.00" y="803.05" font-size="16.5" font-weight="normal" text-anchor="middle" fill="#111" stroke="#111" stroke-width="0.25">Histidine</text>
<text x="262.40" y="803.05" font-size="16.5" font-weight="normal" text-anchor="middle" fill="#111" stroke="#111" stroke-width="0.25">0,05</text>
<text x="350.00" y="803.05" font-size="16.5" font-weight="normal" text-anchor="middle" fill="#111" stroke="#111" stroke-width="0.25">0</text>
<text x="426.00" y="803.05" font-size="16.5" font-weight="normal" text-anchor="middle" fill="#111" stroke="#111" stroke-width="0.25">250</text>
<text x="54.50" y="827.42" font-size="16.5" font-weight="normal" text-anchor="middle" fill="#111" stroke="#111" stroke-width="0.25">7</text>
<text x="105.80" y="827.42" font-size="16.5" font-weight="normal" text-anchor="middle" fill="#111" stroke="#111" stroke-width="0.25">6</text>
<text x="168.00" y="827.42" font-size="16.5" font-weight="normal" text-anchor="middle" fill="#111" stroke="#111" stroke-width="0.25">Histidine</text>
<text x="262.40" y="827.42" font-size="16.5" font-weight="normal" text-anchor="middle" fill="#111" stroke="#111" stroke-width="0.25">0,05</text>
<text x="350.00" y="827.42" font-size="16.5" font-weight="normal" text-anchor="middle" fill="#111" stroke="#111" stroke-width="0.25">50</text>
<text x="426.00" y="827.42" font-size="16.5" font-weight="normal" text-anchor="middle" fill="#111" stroke="#111" stroke-width="0.25">200</text>
<text x="54.50" y="851.79" font-size="16.5" font-weight="normal" text-anchor="middle" fill="#111" stroke="#111" stroke-width="0.25">8</text>
<text x="105.80" y="851.79" font-size="16.5" font-weight="normal" text-anchor="middle" fill="#111" stroke="#111" stroke-width="0.25">PBS</text>
<line x1="614.80" y1="635.90" x2="614.80" y2="804.20" stroke="#000" stroke-width="2.2"/>
<line x1="608.60" y1="637.20" x2="614.80" y2="637.20" stroke="#000" stroke-width="2.0"/>
<text x="606.40" y="642.30" font-size="15" font-weight="bold" text-anchor="end" fill="#000" stroke="#000" stroke-width="0.2">1.5</text>
<line x1="608.60" y1="678.80" x2="614.80" y2="678.80" stroke="#000" stroke-width="2.0"/>
<text x="606.40" y="683.90" font-size="15" font-weight="bold" text-anchor="end" fill="#000" stroke="#000" stroke-width="0.2">1.0</text>
<line x1="608.60" y1="720.40" x2="614.80" y2="720.40" stroke="#000" stroke-width="2.0"/>
<text x="606.40" y="725.50" font-size="15" font-weight="bold" text-anchor="end" fill="#000" stroke="#000" stroke-width="0.2">0.5</text>
<line x1="608.60" y1="762.00" x2="614.80" y2="762.00" stroke="#000" stroke-width="2.0"/>
<text x="606.40" y="767.10" font-size="15" font-weight="bold" text-anchor="end" fill="#000" stroke="#000" stroke-width="0.2">0.0</text>
<line x1="608.60" y1="803.60" x2="614.80" y2="803.60" stroke="#000" stroke-width="2.0"/>
<text x="606.40" y="808.70" font-size="15" font-weight="bold" text-anchor="end" fill="#000" stroke="#000" stroke-width="0.2">-0.5</text>
<line x1="607.80" y1="803.40" x2="949.60" y2="803.40" stroke="#000" stroke-width="2.1"/>
<line x1="641.00" y1="803.40" x2="641.00" y2="809.60" stroke="#000" stroke-width="2.0"/>
<text x="641.00" y="825.40" font-size="15.8" font-weight="bold" text-anchor="middle" fill="#000" stroke="#000" stroke-width="0.2">1</text>
<line x1="681.10" y1="803.40" x2="681.10" y2="809.60" stroke="#000" stroke-width="2.0"/>
<text x="681.10" y="825.40" font-size="15.8" font-weight="bold" text-anchor="middle" fill="#000" stroke="#000" stroke-width="0.2">2</text>
<line x1="721.20" y1="803.40" x2="721.20" y2="809.60" stroke="#000" stroke-width="2.0"/>
<text x="721.20" y="825.40" font-size="15.8" font-weight="bold" text-anchor="middle" fill="#000" stroke="#000" stroke-width="0.2">3</text>
<line x1="761.30" y1="803.40" x2="761.30" y2="809.60" stroke="#000" stroke-width="2.0"/>
<text x="761.30" y="825.40" font-size="15.8" font-weight="bold" text-anchor="middle" fill="#000" stroke="#000" stroke-width="0.2">4</text>
<line x1="801.40" y1="803.40" x2="801.40" y2="809.60" stroke="#000" stroke-width="2.0"/>
<text x="801.40" y="825.40" font-size="15.8" font-weight="bold" text-anchor="middle" fill="#000" stroke="#000" stroke-width="0.2">5</text>
<line x1="841.50" y1="803.40" x2="841.50" y2="809.60" stroke="#000" stroke-width="2.0"/>
<text x="841.50" y="825.40" font-size="15.8" font-weight="bold" text-anchor="middle" fill="#000" stroke="#000" stroke-width="0.2">6</text>
<line x1="881.60" y1="803.40" x2="881.60" y2="809.60" stroke="#000" stroke-width="2.0"/>
<text x="881.60" y="825.40" font-size="15.8" font-weight="bold" text-anchor="middle" fill="#000" stroke="#000" stroke-width="0.2">7</text>
<line x1="921.70" y1="803.40" x2="921.70" y2="809.60" stroke="#000" stroke-width="2.0"/>
<text x="921.70" y="825.40" font-size="15.8" font-weight="bold" text-anchor="middle" fill="#000" stroke="#000" stroke-width="0.2">8</text>
<text x="782.00" y="849.40" font-size="15" font-weight="bold" text-anchor="middle" fill="#000" stroke="#000" stroke-width="0.2">Buffer</text>
<text x="571.40" y="717.20" font-size="15.5" font-weight="bold" text-anchor="middle" fill="#000" stroke="#000" stroke-width="0.2" transform="rotate(-90 571.40 717.20)">Δ % HMWs</text>
<text x="623.00" y="651.80" font-size="15.3" font-weight="bold" text-anchor="start" fill="#0000ff" stroke="#0000ff" stroke-width="0.2">Week 2</text>
<text x="623.00" y="670.30" font-size="15.3" font-weight="bold" text-anchor="start" fill="#f00000" stroke="#f00000" stroke-width="0.2">Week 4</text>
<line x1="619" y1="762.0" x2="948.5" y2="762.0" stroke="#333" stroke-width="1.3" stroke-dasharray="1.3 2.96"/>
<circle cx="641.00" cy="762.00" r="3.70" fill="#f00000"/>
<circle cx="681.10" cy="753.68" r="3.70" fill="#f00000"/>
<circle cx="721.20" cy="737.04" r="3.70" fill="#f00000"/>
<circle cx="751.68" cy="778.64" r="3.70" fill="#f00000"/>
<circle cx="801.40" cy="786.96" r="3.70" fill="#f00000"/>
<circle cx="841.50" cy="778.64" r="3.70" fill="#f00000"/>
<circle cx="881.60" cy="770.32" r="3.70" fill="#f00000"/>
<circle cx="921.70" cy="662.16" r="3.70" fill="#f00000"/>
<circle cx="641.00" cy="770.32" r="3.70" fill="#0000ff"/>
<circle cx="681.10" cy="762.00" r="3.70" fill="#0000ff"/>
<circle cx="721.20" cy="745.36" r="3.70" fill="#0000ff"/>
<circle cx="770.92" cy="778.64" r="3.70" fill="#0000ff"/>
<circle cx="801.40" cy="778.64" r="3.70" fill="#0000ff"/>
<circle cx="841.50" cy="770.32" r="3.70" fill="#0000ff"/>
<circle cx="881.60" cy="762.00" r="3.70" fill="#0000ff"/>
<circle cx="921.70" cy="678.80" r="3.70" fill="#0000ff"/>
<line x1="132.40" y1="939.80" x2="132.40" y2="1116.00" stroke="#000" stroke-width="2.0"/>
<line x1="126.00" y1="1115.00" x2="132.40" y2="1115.00" stroke="#000" stroke-width="1.8"/>
<text x="124.20" y="1120.10" font-size="15" font-weight="bold" text-anchor="end" fill="#000" stroke="#000" stroke-width="0.2">0</text>
<line x1="126.00" y1="1080.15" x2="132.40" y2="1080.15" stroke="#000" stroke-width="1.8"/>
<text x="124.20" y="1085.25" font-size="15" font-weight="bold" text-anchor="end" fill="#000" stroke="#000" stroke-width="0.2">1</text>
<line x1="126.00" y1="1045.30" x2="132.40" y2="1045.30" stroke="#000" stroke-width="1.8"/>
<text x="124.20" y="1050.40" font-size="15" font-weight="bold" text-anchor="end" fill="#000" stroke="#000" stroke-width="0.2">2</text>
<line x1="126.00" y1="1010.45" x2="132.40" y2="1010.45" stroke="#000" stroke-width="1.8"/>
<text x="124.20" y="1015.55" font-size="15" font-weight="bold" text-anchor="end" fill="#000" stroke="#000" stroke-width="0.2">3</text>
<line x1="126.00" y1="975.60" x2="132.40" y2="975.60" stroke="#000" stroke-width="1.8"/>
<text x="124.20" y="980.70" font-size="15" font-weight="bold" text-anchor="end" fill="#000" stroke="#000" stroke-width="0.2">4</text>
<line x1="126.00" y1="940.75" x2="132.40" y2="940.75" stroke="#000" stroke-width="1.8"/>
<text x="124.20" y="945.85" font-size="15" font-weight="bold" text-anchor="end" fill="#000" stroke="#000" stroke-width="0.2">5</text>
<line x1="125.10" y1="1115.00" x2="481.70" y2="1115.00" stroke="#000" stroke-width="2.0"/>
<line x1="159.80" y1="1115.00" x2="159.80" y2="1122.00" stroke="#000" stroke-width="1.8"/>
<text x="159.80" y="1137.60" font-size="15" font-weight="bold" text-anchor="middle" fill="#000" stroke="#000" stroke-width="0.2">1</text>
<line x1="201.70" y1="1115.00" x2="201.70" y2="1122.00" stroke="#000" stroke-width="1.8"/>
<text x="201.70" y="1137.60" font-size="15" font-weight="bold" text-anchor="middle" fill="#000" stroke="#000" stroke-width="0.2">2</text>
<line x1="243.60" y1="1115.00" x2="243.60" y2="1122.00" stroke="#000" stroke-width="1.8"/>
<text x="243.60" y="1137.60" font-size="15" font-weight="bold" text-anchor="middle" fill="#000" stroke="#000" stroke-width="0.2">3</text>
<line x1="285.50" y1="1115.00" x2="285.50" y2="1122.00" stroke="#000" stroke-width="1.8"/>
<text x="285.50" y="1137.60" font-size="15" font-weight="bold" text-anchor="middle" fill="#000" stroke="#000" stroke-width="0.2">4</text>
<line x1="327.40" y1="1115.00" x2="327.40" y2="1122.00" stroke="#000" stroke-width="1.8"/>
<text x="327.40" y="1137.60" font-size="15" font-weight="bold" text-anchor="middle" fill="#000" stroke="#000" stroke-width="0.2">5</text>
<line x1="369.30" y1="1115.00" x2="369.30" y2="1122.00" stroke="#000" stroke-width="1.8"/>
<text x="369.30" y="1137.60" font-size="15" font-weight="bold" text-anchor="middle" fill="#000" stroke="#000" stroke-width="0.2">6</text>
<line x1="411.20" y1="1115.00" x2="411.20" y2="1122.00" stroke="#000" stroke-width="1.8"/>
<text x="411.20" y="1137.60" font-size="15" font-weight="bold" text-anchor="middle" fill="#000" stroke="#000" stroke-width="0.2">7</text>
<line x1="453.10" y1="1115.00" x2="453.10" y2="1122.00" stroke="#000" stroke-width="1.8"/>
<text x="453.10" y="1137.60" font-size="15" font-weight="bold" text-anchor="middle" fill="#000" stroke="#000" stroke-width="0.2">8</text>
<text x="306.50" y="1162.60" font-size="15.4" font-weight="bold" text-anchor="middle" fill="#000" stroke="#000" stroke-width="0.2">Buffer</text>
<text x="106.00" y="1024.80" font-size="15.5" font-weight="bold" text-anchor="middle" fill="#000" stroke="#000" stroke-width="0.2" transform="rotate(-90 106.00 1024.80)">Δ % LMWs</text>
<text x="140.40" y="956.90" font-size="15.8" font-weight="bold" text-anchor="start" fill="#0000ff" stroke="#0000ff" stroke-width="0.2">Week 2</text>
<text x="140.40" y="976.10" font-size="15.8" font-weight="bold" text-anchor="start" fill="#f00000" stroke="#f00000" stroke-width="0.2">Week 4</text>
<circle cx="159.80" cy="1083.63" r="3.70" fill="#f00000"/>
<circle cx="201.70" cy="1083.63" r="3.70" fill="#f00000"/>
<circle cx="243.60" cy="1069.69" r="3.70" fill="#f00000"/>
<circle cx="295.98" cy="1087.12" r="3.70" fill="#f00000"/>
<circle cx="327.40" cy="1083.63" r="3.70" fill="#f00000"/>
<circle cx="379.77" cy="1083.63" r="3.70" fill="#f00000"/>
<circle cx="421.68" cy="1083.63" r="3.70" fill="#f00000"/>
<circle cx="453.10" cy="968.63" r="3.70" fill="#f00000"/>
<circle cx="159.80" cy="1094.09" r="3.70" fill="#0000ff"/>
<circle cx="201.70" cy="1094.09" r="3.70" fill="#0000ff"/>
<circle cx="243.60" cy="1087.12" r="3.70" fill="#0000ff"/>
<circle cx="275.02" cy="1094.09" r="3.70" fill="#0000ff"/>
<circle cx="327.40" cy="1094.09" r="3.70" fill="#0000ff"/>
<circle cx="358.83" cy="1090.61" r="3.70" fill="#0000ff"/>
<circle cx="400.73" cy="1090.61" r="3.70" fill="#0000ff"/>
<circle cx="453.10" cy="1010.45" r="3.70" fill="#0000ff"/>
<line x1="616.40" y1="942.60" x2="616.40" y2="1112.20" stroke="#000" stroke-width="2.3"/>
<line x1="609.40" y1="943.40" x2="616.40" y2="943.40" stroke="#000" stroke-width="2.0"/>
<text x="606.40" y="949.00" font-size="16.5" font-weight="bold" text-anchor="end" fill="#000" stroke="#000" stroke-width="0.2">2.0</text>
<line x1="609.40" y1="985.30" x2="616.40" y2="985.30" stroke="#000" stroke-width="2.0"/>
<text x="606.40" y="990.90" font-size="16.5" font-weight="bold" text-anchor="end" fill="#000" stroke="#000" stroke-width="0.2">1.5</text>
<line x1="609.40" y1="1027.20" x2="616.40" y2="1027.20" stroke="#000" stroke-width="2.0"/>
<text x="606.40" y="1032.80" font-size="16.5" font-weight="bold" text-anchor="end" fill="#000" stroke="#000" stroke-width="0.2">1.0</text>
<line x1="609.40" y1="1069.10" x2="616.40" y2="1069.10" stroke="#000" stroke-width="2.0"/>
<text x="606.40" y="1074.70" font-size="16.5" font-weight="bold" text-anchor="end" fill="#000" stroke="#000" stroke-width="0.2">0.5</text>
<line x1="609.40" y1="1111.00" x2="616.40" y2="1111.00" stroke="#000" stroke-width="2.0"/>
<text x="606.40" y="1116.60" font-size="16.5" font-weight="bold" text-anchor="end" fill="#000" stroke="#000" stroke-width="0.2">0.0</text>
<line x1="609.40" y1="1111.00" x2="875.00" y2="1111.00" stroke="#000" stroke-width="2.3"/>
<line x1="616.40" y1="1111.00" x2="616.40" y2="1118.50" stroke="#000" stroke-width="2.0"/>
<text x="616.40" y="1137.50" font-size="16.5" font-weight="bold" text-anchor="middle" fill="#000" stroke="#000" stroke-width="0.2">0</text>
<line x1="667.90" y1="1111.00" x2="667.90" y2="1118.50" stroke="#000" stroke-width="2.0"/>
<text x="667.90" y="1137.50" font-size="16.5" font-weight="bold" text-anchor="middle" fill="#000" stroke="#000" stroke-width="0.2">30</text>
<line x1="719.40" y1="1111.00" x2="719.40" y2="1118.50" stroke="#000" stroke-width="2.0"/>
<text x="719.40" y="1137.50" font-size="16.5" font-weight="bold" text-anchor="middle" fill="#000" stroke="#000" stroke-width="0.2">60</text>
<line x1="770.90" y1="1111.00" x2="770.90" y2="1118.50" stroke="#000" stroke-width="2.0"/>
<text x="770.90" y="1137.50" font-size="16.5" font-weight="bold" text-anchor="middle" fill="#000" stroke="#000" stroke-width="0.2">90</text>
<line x1="822.40" y1="1111.00" x2="822.40" y2="1118.50" stroke="#000" stroke-width="2.0"/>
<text x="822.40" y="1137.50" font-size="16.5" font-weight="bold" text-anchor="middle" fill="#000" stroke="#000" stroke-width="0.2">120</text>
<line x1="873.90" y1="1111.00" x2="873.90" y2="1118.50" stroke="#000" stroke-width="2.0"/>
<text x="873.90" y="1137.50" font-size="16.5" font-weight="bold" text-anchor="middle" fill="#000" stroke="#000" stroke-width="0.2">150</text>
<text x="746.40" y="1162.60" font-size="17" font-weight="bold" text-anchor="middle" fill="#000" stroke="#000" stroke-width="0.2">Time (min)</text>
<text x="572.80" y="1024.50" font-size="17.5" font-weight="bold" text-anchor="middle" fill="#000" stroke="#000" stroke-width="0.2" transform="rotate(-90 572.80 1024.50)">Δ % HMWs</text>
<circle cx="667.90" cy="1102.62" r="3.60" fill="#c040e8"/>
<circle cx="719.40" cy="1102.62" r="3.60" fill="#c040e8"/>
<circle cx="770.90" cy="1094.24" r="3.60" fill="#c040e8"/>
<circle cx="822.40" cy="1102.62" r="3.60" fill="#c040e8"/>
<rect x="664.30" y="1090.64" width="7.20" height="7.20" fill="#00e000"/>
<rect x="715.80" y="1090.64" width="7.20" height="7.20" fill="#00e000"/>
<rect x="767.30" y="1099.02" width="7.20" height="7.20" fill="#00e000"/>
<rect x="818.80" y="1090.64" width="7.20" height="7.20" fill="#00e000"/>
<circle cx="808.00" cy="961.80" r="3.60" fill="#c040e8"/>
<rect x="804.40" y="978.30" width="7.20" height="7.20" fill="#00e000"/>
<text x="826.60" y="966.90" font-size="17.5" font-weight="normal" text-anchor="start" fill="#1a1a1a">RUBY v9 #1</text>
<text x="826.60" y="987.00" font-size="17.5" font-weight="normal" text-anchor="start" fill="#1a1a1a">RUBY v9 #2</text>
</svg></body></html>
